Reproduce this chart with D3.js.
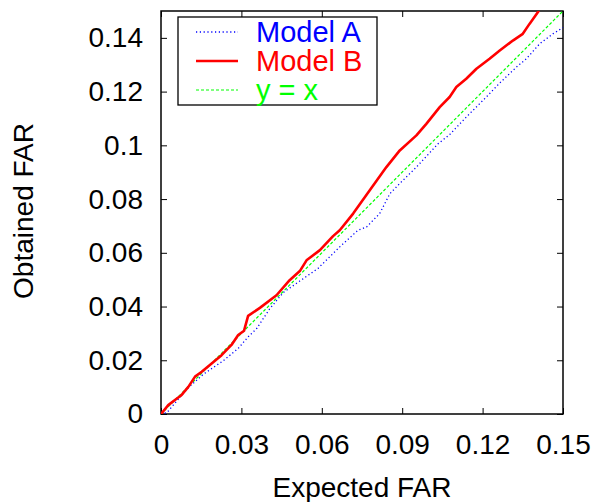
<!DOCTYPE html>
<html>
<head>
<meta charset="utf-8">
<script src="https://cdn.jsdelivr.net/npm/d3@7"></script>
<style>
  body { margin: 0; background: #fff; }
  text { font-family: "Liberation Sans", Arial, sans-serif; }
</style>
</head>
<body>
<div id="chart"></div>
<script>
// Model B (red, solid)
const modelBx = [0, 0.0027, 0.0052, 0.0077, 0.0102, 0.0127, 0.0152, 0.0189, 0.0226, 0.0263, 0.0288, 0.031, 0.0325, 0.0369, 0.0431, 0.048, 0.0518, 0.0543, 0.0593, 0.0642, 0.0667, 0.0717, 0.0779, 0.0841, 0.0891, 0.0953, 0.099, 0.104, 0.1077, 0.1102, 0.1139, 0.1177, 0.1226, 0.1264, 0.1313, 0.135, 0.1375, 0.1406, 0.142];
const modelBy = [0, 0.0033, 0.0052, 0.0071, 0.0101, 0.0139, 0.0157, 0.0188, 0.0219, 0.0257, 0.0294, 0.031, 0.0365, 0.0395, 0.0442, 0.0498, 0.0532, 0.0572, 0.061, 0.0662, 0.0684, 0.0746, 0.0833, 0.0919, 0.0981, 0.1037, 0.108, 0.1142, 0.118, 0.1217, 0.1248, 0.1285, 0.1322, 0.1353, 0.139, 0.1415, 0.1452, 0.1495, 0.152];

// Model A (blue, dotted)
const modelAx = [0, 0.0022, 0.006, 0.0102, 0.0158, 0.0232, 0.0288, 0.0325, 0.0357, 0.0406, 0.0456, 0.0518, 0.0586, 0.0667, 0.0735, 0.0767, 0.0816, 0.0854, 0.0891, 0.0953, 0.1034, 0.1077, 0.1139, 0.1214, 0.1264, 0.1326, 0.1363, 0.1413, 0.1462, 0.15];
const modelAy = [0, 0.0005, 0.005, 0.0098, 0.0148, 0.0198, 0.0244, 0.0287, 0.0318, 0.0392, 0.0452, 0.0495, 0.0542, 0.0622, 0.0684, 0.0696, 0.0746, 0.082, 0.0858, 0.0919, 0.1006, 0.104, 0.1105, 0.118, 0.1232, 0.1291, 0.1322, 0.1378, 0.1415, 0.1438];

// y = x reference
const diagX = [0, 0.15];

const xTicks = [0, 0.03, 0.06, 0.09, 0.12, 0.15];
const yTicks = [0, 0.02, 0.04, 0.06, 0.08, 0.1, 0.12, 0.14];
const legendNames = ["Model A", "Model B", "y = x"];

const svgWidth = 598;
const svgHeight = 502;
const margin = { top: 11, right: 35, bottom: 88, left: 161 };
const width = svgWidth - margin.left - margin.right;
const height = svgHeight - margin.top - margin.bottom;

const svg = d3.select("#chart").append("svg")
  .attr("width", svgWidth)
  .attr("height", svgHeight);

const g = svg.append("g")
  .attr("transform", `translate(${margin.left}, ${margin.top})`);

const x = d3.scaleLinear().domain([0, 0.15]).range([0, width]);
const y = d3.scaleLinear().domain([0, 0.15]).range([height, 0]);

g.append("clipPath").attr("id", "clip")
  .append("rect").attr("width", width).attr("height", height);

const fmt = d => d === 0 ? "0" : String(+d.toFixed(2));

// axes: ticks inward, mirrored on top and right
g.append("g")
  .attr("transform", `translate(0, ${height})`)
  .call(d3.axisBottom(x).tickValues(xTicks).tickSize(-6).tickPadding(20).tickFormat(fmt))
  .call(a => a.select(".domain").remove());
g.append("g")
  .call(d3.axisTop(x).tickValues(xTicks).tickSize(-6).tickFormat(""))
  .call(a => a.select(".domain").remove());
g.append("g")
  .call(d3.axisLeft(y).tickValues(yTicks).tickSize(-6).tickPadding(18).tickFormat(fmt))
  .call(a => a.select(".domain").remove());
g.append("g")
  .attr("transform", `translate(${width}, 0)`)
  .call(d3.axisRight(y).tickValues(yTicks).tickSize(-6).tickFormat(""))
  .call(a => a.select(".domain").remove());

g.selectAll(".tick line").attr("stroke", "#000").attr("stroke-width", 1);
g.selectAll(".tick text")
  .attr("fill", "#000")
  .style("font-size", "28px")
  .style("font-family", "'Liberation Sans', Arial, sans-serif");

// frame
g.append("rect")
  .attr("width", width).attr("height", height)
  .attr("fill", "none").attr("stroke", "#000").attr("stroke-width", 1.5);

const line = d3.line().x(d => x(d[0])).y(d => y(d[1]));

const plot = g.append("g").attr("clip-path", "url(#clip)");

plot.append("path")
  .datum(diagX.map(v => [v, v]))
  .attr("d", line)
  .attr("fill", "none").attr("stroke", "#00ff00")
  .attr("stroke-width", 1.2).attr("stroke-dasharray", "3,2");

plot.append("path")
  .datum(modelAx.map((v, i) => [v, modelAy[i]]))
  .attr("d", line)
  .attr("fill", "none").attr("stroke", "#0000ff")
  .attr("stroke-width", 1.3).attr("stroke-dasharray", "1.2,2.6");

plot.append("path")
  .datum(modelBx.map((v, i) => [v, modelBy[i]]))
  .attr("d", line)
  .attr("fill", "none").attr("stroke", "#ff0000")
  .attr("stroke-width", 2.6).attr("stroke-linejoin", "round");

// legend
const legend = svg.append("g");
legend.append("rect")
  .attr("x", 178).attr("y", 17).attr("width", 199).attr("height", 88)
  .attr("fill", "#fff").attr("stroke", "#000").attr("stroke-width", 1.3);

const legendStyles = [
  { color: "#0000ff", w: 1.3, dash: "1.2,2.6" },
  { color: "#ff0000", w: 2.6, dash: null },
  { color: "#00ff00", w: 1.2, dash: "3,2" }
];

legendNames.forEach((name, i) => {
  const ly = 32 + i * 29;
  const s = legendStyles[i];
  legend.append("line")
    .attr("x1", 196).attr("x2", 238).attr("y1", ly).attr("y2", ly)
    .attr("stroke", s.color).attr("stroke-width", s.w)
    .attr("stroke-dasharray", s.dash);
  legend.append("text")
    .attr("x", 256).attr("y", ly + 10)
    .attr("fill", s.color)
    .style("font-size", "29px")
    .text(name);
});

// axis titles
svg.append("text")
  .attr("x", 362).attr("y", 497)
  .attr("text-anchor", "middle")
  .style("font-size", "28px")
  .text("Expected FAR");

svg.append("text")
  .attr("transform", "translate(33, 211) rotate(-90)")
  .attr("text-anchor", "middle")
  .style("font-size", "28px")
  .text("Obtained FAR");
</script>
</body>
</html>
